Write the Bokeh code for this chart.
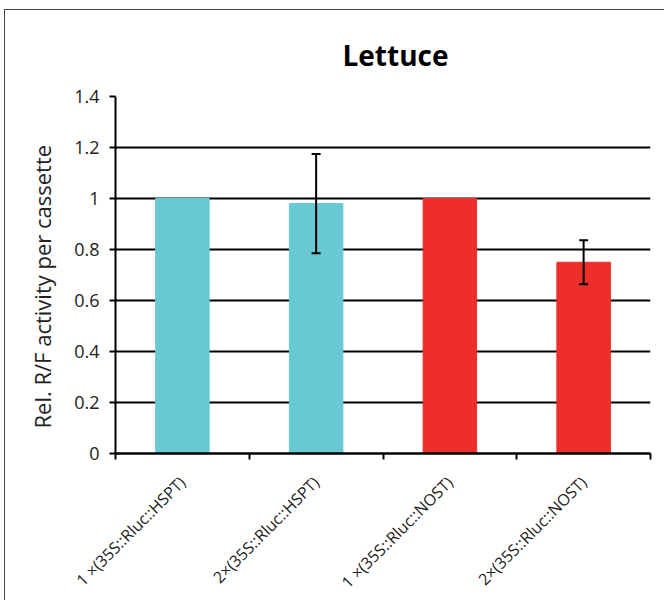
from bokeh.plotting import figure
from bokeh.models import ColumnDataSource, Whisker, TeeHead, FixedTicker, Title
from bokeh.embed import file_html
from bokeh.resources import INLINE

# Data
categories = ["1 ×(35S::Rluc::HSPT)", "2×(35S::Rluc::HSPT)",
              "1 ×(35S::Rluc::NOST)", "2×(35S::Rluc::NOST)"]
values = [1.0, 0.98, 1.0, 0.75]
errors = [0.0, 0.195, 0.0, 0.086]
colors = ["#68C9D4", "#68C9D4", "#EE2E2A", "#EE2E2A"]
y_ticks = [0, 0.2, 0.4, 0.6, 0.8, 1.0, 1.2, 1.4]
y_tick_labels = ["0", "0.2", "0.4", "0.6", "0.8", "1", "1.2", "1.4"]

FONT = "Open Sans"

xs = [i + 0.5 for i in range(len(categories))]
bars = ColumnDataSource(dict(x=xs, top=values, color=colors))

# error bars only where an error was measured
ex = [x for x, e in zip(xs, errors) if e > 0]
ev = [v for v, e in zip(values, errors) if e > 0]
ee = [e for e in errors if e > 0]
errs = ColumnDataSource(dict(
    x=ex,
    upper=[v + e for v, e in zip(ev, ee)],
    lower=[v - e for v, e in zip(ev, ee)],
))

p = figure(frame_width=535, frame_height=357, x_range=(0, 4), y_range=(0, 1.4),
           output_backend="svg", toolbar_location=None,
           min_border_left=110, min_border_right=14,
           min_border_top=86, min_border_bottom=147)
p.margin = (9, 0, 0, 4)
p.styles = {"border-left": "1.5px solid #444", "border-top": "1.5px solid #444"}
p.outline_line_color = None
p.background_fill_color = "white"
p.border_fill_color = "white"

p.vbar(x="x", top="top", width=0.4, color="color", source=bars)

err = Whisker(base="x", upper="upper", lower="lower", source=errs,
              line_color="black", line_width=2, level="overlay",
              upper_head=TeeHead(size=9, line_width=2, line_color="black"),
              lower_head=TeeHead(size=9, line_width=2, line_color="black"))
p.add_layout(err)

# y axis
p.yaxis.ticker = FixedTicker(ticks=y_ticks)
p.yaxis.major_label_overrides = {t: s for t, s in zip(y_ticks, y_tick_labels)}
p.yaxis.axis_line_width = 2
p.yaxis.major_tick_line_width = 2
p.yaxis.major_tick_out = 6
p.yaxis.major_tick_in = 0
p.yaxis.minor_tick_line_color = None
p.yaxis.major_label_standoff = 10
p.yaxis.major_label_text_font = FONT
p.yaxis.major_label_text_font_size = "18px"
p.yaxis.major_label_text_color = "#222222"
p.yaxis.axis_label = None

# y-axis title, starting a little above the frame bottom
p.add_layout(Title(text="Rel. R/F activity per cassette", align="left", offset=25,
                   text_font=FONT, text_font_size="22px", text_font_style="normal",
                   text_color="#222222", standoff=30), "left")

# x axis: labels at category centres, ticks at boundaries
p.xaxis.ticker = FixedTicker(ticks=xs, minor_ticks=list(range(len(categories) + 1)))
p.xaxis.major_label_overrides = {x: c for x, c in zip(xs, categories)}
p.xaxis.major_label_orientation = 0.785398
p.xaxis.major_tick_line_color = None
p.xaxis.minor_tick_line_width = 2
p.xaxis.minor_tick_out = 6
p.xaxis.minor_tick_in = 0
p.xaxis.axis_line_width = 2.5
p.xaxis.major_label_standoff = 20
p.xaxis.major_label_text_font = FONT
p.xaxis.major_label_text_font_size = "16px"
p.xaxis.major_label_text_color = "#222222"

p.xgrid.grid_line_color = None
p.ygrid.grid_line_color = "black"
p.ygrid.grid_line_width = 2

p.title = Title(text="Lettuce", align="left", offset=227,
                text_font=FONT, text_font_size="28px", text_font_style="bold",
                text_color="black", standoff=46)

open("out.html", "w").write(file_html(p, INLINE))
